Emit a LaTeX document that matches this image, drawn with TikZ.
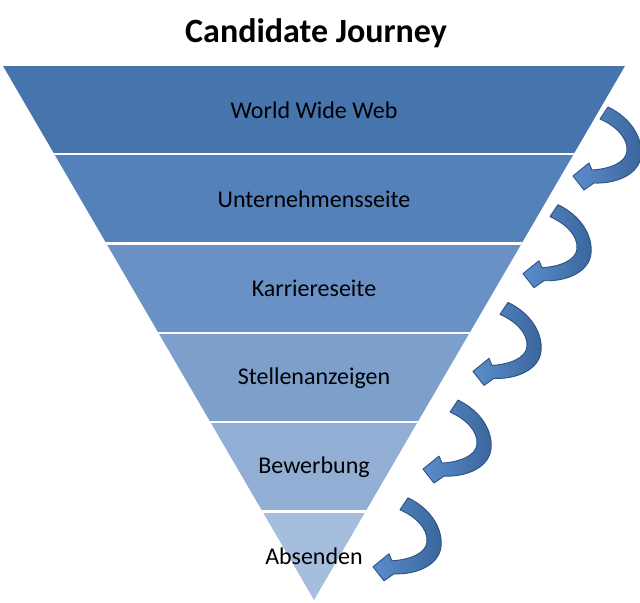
\documentclass[tikz,border=0pt]{standalone}
\usepackage{fontspec}
\setmainfont{Carlito}
\definecolor{bA}{HTML}{4674AC}
\definecolor{bB}{HTML}{5481BA}
\definecolor{bC}{HTML}{6A91C5}
\definecolor{bD}{HTML}{7D9FCC}
\definecolor{bE}{HTML}{92AED5}
\definecolor{bF}{HTML}{A6BEDD}
\definecolor{arrlight}{HTML}{5B8DCB}
\definecolor{arrdark}{HTML}{3A659C}
\definecolor{arrline}{HTML}{2C5486}
\begin{document}
\begin{tikzpicture}[x=0.75pt,y=-0.75pt,
  gapline/.style={white,line width=1.95pt},
  lbl/.style={font=\fontsize{18}{20}\selectfont,text=black,inner sep=0pt},
  arr/.style={left color=arrlight,right color=arrdark,draw=arrline,line width=0.7pt,line join=round},
  curvarrow/.pic={
    \path[arr] (27,-57) -- (35,-69)
      .. controls (58,-58) and (70,-38) .. (68,-20)
      .. controls (66,-2) and (44,8) .. (21,7)
      -- (11,14) -- (0,0) -- (16,-13) -- (19,-6)
      .. controls (36,-7) and (53,-13) .. (54,-25)
      .. controls (55,-38) and (43,-50) .. (27,-57) -- cycle;
  }]
\useasboundingbox (0,0) rectangle (640,603);
\node[font=\bfseries\fontsize{25.5}{30}\selectfont,inner sep=0pt,anchor=base] (title) at (316,42) {Candidate Journey};
\begin{scope}
  \clip (3,66) -- (625,66) -- (314,600) -- cycle;
  \fill[bA] (0,60) rectangle (640,154);
  \fill[bB] (0,154) rectangle (640,243.5);
  \fill[bC] (0,243.5) rectangle (640,333);
  \fill[bD] (0,333) rectangle (640,422);
  \fill[bE] (0,422) rectangle (640,511.5);
  \fill[bF] (0,511.5) rectangle (640,603);
  \draw[gapline] (0,154) -- (640,154);
  \draw[gapline] (0,243.5) -- (640,243.5);
  \draw[gapline] (0,333) -- (640,333);
  \draw[gapline] (0,422) -- (640,422);
  \draw[gapline] (0,511.5) -- (640,511.5);
\end{scope}
\node[lbl] (l1) at (314,110) {World Wide Web};
\node[lbl] (l2) at (314,199) {Unternehmensseite};
\node[lbl] (l3) at (314,288.5) {Karriereseite};
\node[lbl] (l4) at (314,378) {Stellenanzeigen};
\node[lbl] (l5) at (314,467) {Bewerbung};
\node[lbl] (l6) at (314,556) {Absenden};
\pic at (573,176) {curvarrow};
\pic at (523,273.7) {curvarrow};
\pic at (473,371.4) {curvarrow};
\pic at (423,469.1) {curvarrow};
\pic at (373,566.8) {curvarrow};
\end{tikzpicture}
\end{document}
